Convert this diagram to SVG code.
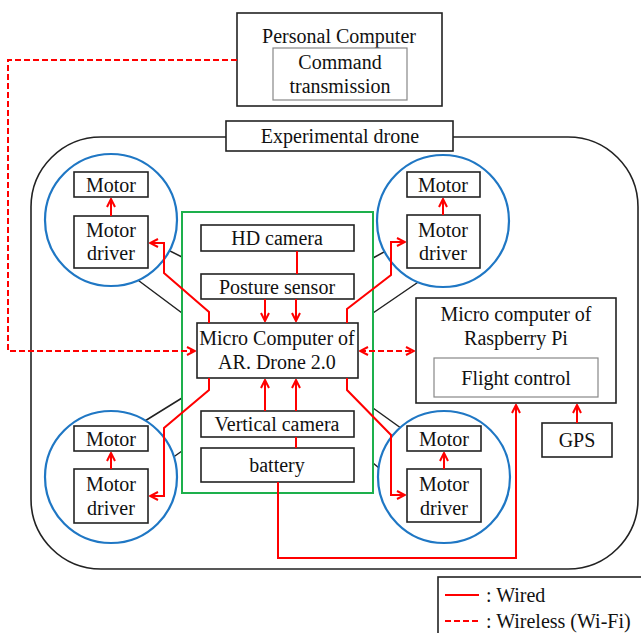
<svg xmlns="http://www.w3.org/2000/svg" width="641" height="633" viewBox="0 0 641 633">
<style>
text{font-family:"Liberation Serif","Times New Roman",serif;font-size:20px;fill:#111;text-anchor:middle}
.bx{fill:#fff;stroke:#222;stroke-width:1.6}
.in{fill:#fff;stroke:#888;stroke-width:1.2}
.ci{fill:#fff;stroke:#1f77c4;stroke-width:2.2}
.st{stroke:#222;stroke-width:1.5;fill:none}
.w{stroke:#f00;stroke-width:2;fill:none}
.d{stroke:#f00;stroke-width:2;fill:none;stroke-dasharray:6 3}
</style>
<defs>
<marker id="a" viewBox="0 0 10 10" refX="9" refY="5" markerWidth="10" markerHeight="10" orient="auto-start-reverse" markerUnits="userSpaceOnUse">
<path d="M1,1 L9,5 L1,9" fill="none" stroke="#f00" stroke-width="2"/>
</marker>
</defs>

<g id="pc">
<rect class="bx" x="237" y="13" width="205" height="93"/>
<text x="339" y="43">Personal Computer</text>
<rect class="in" x="273" y="48" width="134" height="52"/>
<text x="340" y="69">Command</text>
<text x="340" y="93">transmission</text>
</g>

<g id="drone">
<rect x="31" y="137" width="607" height="432" rx="70" ry="70" fill="none" stroke="#222" stroke-width="1.6"/>
<rect class="bx" x="226" y="121" width="227" height="30"/>
<text x="340" y="143">Experimental drone</text>
</g>

<g id="struts">
<path class="st" d="M160,246 L182,257 M111,260 L182,313"/>
<path class="st" d="M395,246 L373,258 M430,274 L373,313"/>
<path class="st" d="M140,424 L182,398 M165,463 L182,451"/>
<path class="st" d="M405,431 L373,408 M385,473 L373,463"/>
</g>

<g id="rotor-tl">
<circle class="ci" cx="111" cy="220" r="66"/>
<rect class="bx" x="74" y="172" width="74" height="25"/>
<text x="111" y="192">Motor</text>
<rect class="bx" x="74" y="216" width="74" height="52"/>
<text x="111" y="237">Motor</text>
<text x="111" y="260">driver</text>
</g>
<g id="rotor-tr">
<circle class="ci" cx="443" cy="221" r="66"/>
<rect class="bx" x="407" y="172" width="73" height="25"/>
<text x="443" y="192">Motor</text>
<rect class="bx" x="407" y="215" width="73" height="53"/>
<text x="443" y="237">Motor</text>
<text x="443" y="260">driver</text>
</g>
<g id="rotor-bl">
<circle class="ci" cx="111" cy="477" r="66"/>
<rect class="bx" x="74" y="426" width="74" height="25"/>
<text x="111" y="446">Motor</text>
<rect class="bx" x="74" y="469" width="74" height="54"/>
<text x="111" y="491">Motor</text>
<text x="111" y="515">driver</text>
</g>
<g id="rotor-br">
<circle class="ci" cx="444" cy="477" r="66"/>
<rect class="bx" x="407" y="426" width="74" height="25"/>
<text x="444" y="446">Motor</text>
<rect class="bx" x="407" y="469" width="74" height="53"/>
<text x="444" y="491">Motor</text>
<text x="444" y="515">driver</text>
</g>

<g id="board">
<rect x="182" y="212" width="191" height="281" fill="none" stroke="#1db04c" stroke-width="2"/>
</g>
<g id="hd">
<rect class="bx" x="201" y="225" width="153" height="26"/>
<text x="277" y="245">HD camera</text>
</g>
<g id="posture">
<rect class="bx" x="201" y="274" width="153" height="25"/>
<text x="277" y="294">Posture sensor</text>
</g>
<g id="ardrone">
<rect class="bx" x="197" y="323" width="161" height="55"/>
<text x="277" y="345">Micro Computer of</text>
<text x="277" y="369">AR. Drone 2.0</text>
</g>
<g id="vcam">
<rect class="bx" x="201" y="411" width="153" height="26"/>
<text x="277" y="431">Vertical camera</text>
</g>
<g id="battery">
<rect class="bx" x="201" y="448" width="153" height="34"/>
<text x="277" y="472">battery</text>
</g>

<g id="rpi">
<rect class="bx" x="416" y="298" width="200" height="105"/>
<text x="516" y="321">Micro computer of</text>
<text x="516" y="345">Raspberry Pi</text>
<rect class="in" x="434" y="358" width="164" height="39"/>
<text x="516" y="385">Flight control</text>
</g>
<g id="gps">
<rect class="bx" x="542" y="423" width="70" height="34"/>
<text x="577" y="447">GPS</text>
</g>

<g id="connectors">
<path class="d" d="M237,60 L8,60 L8,351 L195,351" marker-end="url(#a)"/>
<path class="d" d="M360,351 L414,351" marker-start="url(#a)" marker-end="url(#a)"/>
<path class="w" d="M297,251 L297,274"/>
<path class="w" d="M265,299 L265,321" marker-end="url(#a)"/>
<path class="w" d="M296,299 L296,321" marker-end="url(#a)"/>
<path class="w" d="M265,411 L265,380" marker-end="url(#a)"/>
<path class="w" d="M296,411 L296,380" marker-end="url(#a)"/>
<path class="w" d="M296,437 L296,448"/>
<path class="w" d="M209,323 L209,312 L164,273 L164,243 L150,243" marker-end="url(#a)"/>
<path class="w" d="M347,323 L347,309 L391,275 L391,242 L405,242" marker-end="url(#a)"/>
<path class="w" d="M209,378 L209,390 L164,428 L164,496 L150,496" marker-end="url(#a)"/>
<path class="w" d="M347,378 L347,390 L391,435 L391,495 L405,495" marker-end="url(#a)"/>
<path class="w" d="M111,216 L111,199" marker-end="url(#a)"/>
<path class="w" d="M443,215 L443,199" marker-end="url(#a)"/>
<path class="w" d="M111,469 L111,453" marker-end="url(#a)"/>
<path class="w" d="M444,469 L444,453" marker-end="url(#a)"/>
<path class="w" d="M278,482 L278,558 L516,558 L516,405" marker-end="url(#a)"/>
<path class="w" d="M577,423 L577,405" marker-end="url(#a)"/>
</g>

<g id="legend">
<rect x="438" y="577" width="220" height="70" fill="#fff" stroke="#222" stroke-width="1.6"/>
<path class="w" d="M445,595 L479,595"/>
<path class="d" d="M445,621 L479,621"/>
<text x="486" y="602" style="text-anchor:start">: Wired</text>
<text x="486" y="628" style="text-anchor:start">: Wireless (Wi-Fi)</text>
</g>
</svg>
